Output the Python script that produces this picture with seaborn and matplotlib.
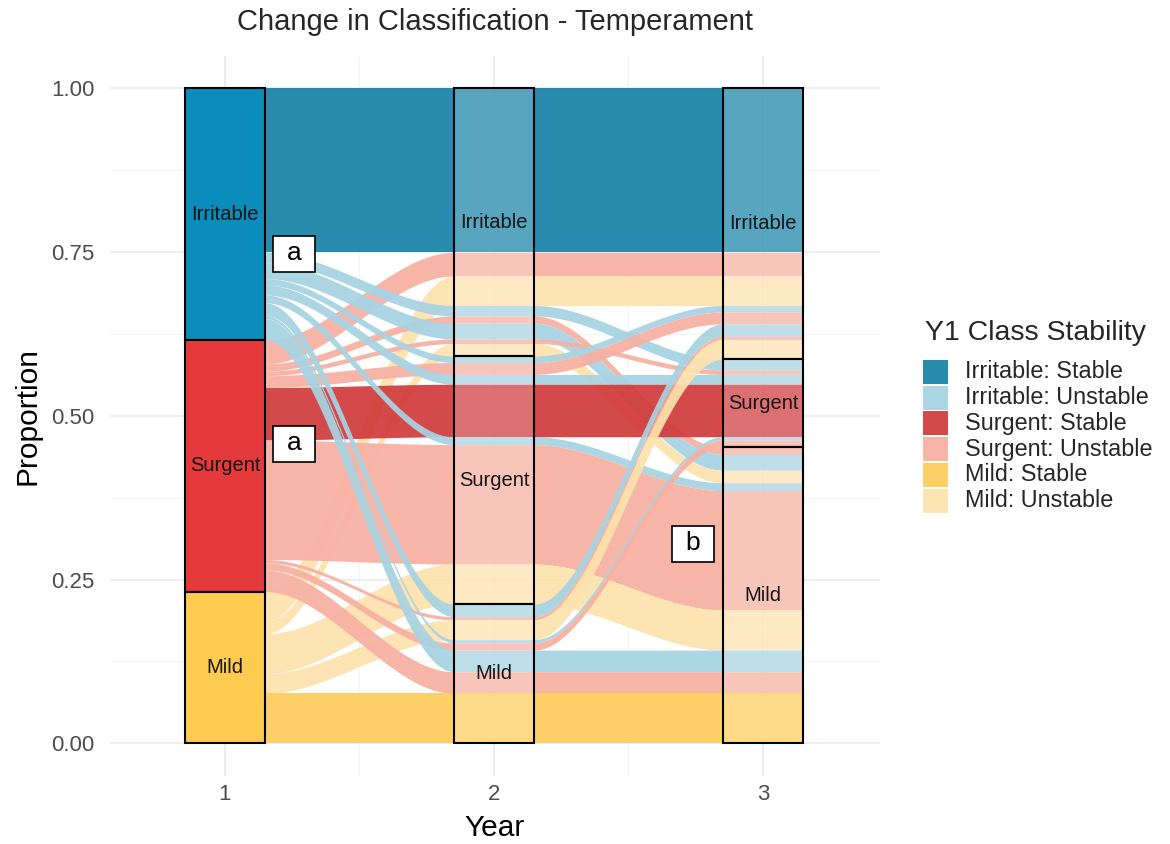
import numpy as np
import matplotlib.pyplot as plt
import seaborn as sns
from matplotlib.patches import Rectangle

sns.set_theme(style="whitegrid")
plt.rcParams['font.family'] = ['Liberation Sans', 'DejaVu Sans']

# ---------------- 数据 ----------------
years = [1, 2, 3]
strata = ['Irritable', 'Surgent', 'Mild']   # 从上到下堆叠
stability_levels = ['Irritable: Stable', 'Irritable: Unstable',
                    'Surgent: Stable', 'Surgent: Unstable',
                    'Mild: Stable', 'Mild: Unstable']
stability_colors = ['#1883a8', '#a7d3e2', '#d13b3b', '#f7b0a2', '#fccd5a', '#fde2ae']
stratum_colors_y1 = ['#0a8dba', '#e6393b', '#fccb4f']

# 每条冲积流: 第1/2/3年类别, Y1 类别稳定性, 比例
class_y1 = ['Irritable', 'Surgent', 'Mild', 'Irritable', 'Surgent', 'Irritable', 'Surgent', 'Mild',
            'Irritable', 'Surgent', 'Irritable', 'Surgent', 'Irritable', 'Surgent', 'Mild',
            'Irritable', 'Surgent', 'Mild', 'Irritable', 'Surgent', 'Irritable', 'Surgent', 'Mild']
class_y2 = ['Irritable'] * 8 + ['Surgent'] * 7 + ['Mild'] * 8
class_y3 = ['Irritable', 'Irritable', 'Irritable', 'Surgent', 'Mild', 'Mild', 'Surgent', 'Mild',
            'Irritable', 'Irritable', 'Surgent', 'Surgent', 'Mild', 'Mild', 'Mild',
            'Irritable', 'Irritable', 'Irritable', 'Surgent', 'Surgent', 'Mild', 'Mild', 'Mild']
stability = ['Irritable: Stable', 'Surgent: Unstable', 'Mild: Unstable', 'Irritable: Unstable',
             'Surgent: Unstable', 'Irritable: Unstable', 'Surgent: Unstable', 'Mild: Unstable',
             'Irritable: Unstable', 'Surgent: Unstable', 'Irritable: Unstable', 'Surgent: Stable',
             'Irritable: Unstable', 'Surgent: Unstable', 'Mild: Unstable',
             'Irritable: Unstable', 'Surgent: Unstable', 'Mild: Unstable', 'Irritable: Unstable',
             'Surgent: Unstable', 'Irritable: Unstable', 'Surgent: Unstable', 'Mild: Stable']
proportion = [0.250, 0.036, 0.045, 0.016, 0.011, 0.024, 0.007, 0.019,
              0.010, 0.018, 0.015, 0.080, 0.012, 0.182, 0.061,
              0.019, 0.005, 0.030, 0.005, 0.011, 0.033, 0.033, 0.076]

# ---------------- 计算每条流在各年份的上下边界 ----------------
paths = list(zip(class_y1, class_y2, class_y3))
w = np.array(proportion) / np.sum(proportion)
n = len(w)
tops = np.zeros((n, 3))
bots = np.zeros((n, 3))
stratum_bounds = {}
for k in range(3):
    y = 1.0
    for s in strata:
        s_top = y
        for i in range(n):
            if paths[i][k] == s:
                tops[i, k] = y
                y -= w[i]
                bots[i, k] = y
        stratum_bounds[(k, s)] = (y, s_top)

hw = 0.15  # 层宽度的一半
color_map = dict(zip(stability_levels, stability_colors))


def alluvium_shape(top, bot):
    xs, hi, lo = [], [], []
    for k in range(3):
        xs += [years[k] - hw, years[k] + hw]
        hi += [top[k]] * 2
        lo += [bot[k]] * 2
        if k < 2:
            t = np.linspace(0, 1, 80)[1:-1]
            s = t * t * (3 - 2 * t)
            x0, x1 = years[k] + hw, years[k + 1] - hw
            xs += list(x0 + (x1 - x0) * t)
            hi += list(top[k] + (top[k + 1] - top[k]) * s)
            lo += list(bot[k] + (bot[k + 1] - bot[k]) * s)
    return np.array(xs), np.array(lo), np.array(hi)


# ---------------- 绘图 ----------------
W, H = 1170, 844
fig = plt.figure(figsize=(W / 100, H / 100), dpi=100)
ax = fig.add_axes([110 / W, 68 / H, 770 / W, 720.5 / H])

for i in range(n):
    xs, lo, hi = alluvium_shape(tops[i], bots[i])
    ax.fill_between(xs, lo, hi, color=color_map[stability[i]], alpha=0.93, lw=0, zorder=2)

for k, yr in enumerate(years):
    for j, s in enumerate(strata):
        b, t = stratum_bounds[(k, s)]
        if k == 0:
            ax.add_patch(Rectangle((yr - hw, b), 2 * hw, t - b, facecolor=stratum_colors_y1[j],
                                   edgecolor='black', lw=1.5, zorder=3))
        else:
            ax.add_patch(Rectangle((yr - hw, b), 2 * hw, t - b, facecolor=(1, 1, 1, 0.22),
                                   edgecolor='black', lw=1.5, zorder=3))
        ax.text(yr, (b + t) / 2, s, ha='center', va='center', fontsize=14.5,
                color='#151515', zorder=4)

# 注释标签 a / a / b
for lab, (cx, cy) in [('a', (1.2565, 0.7466)), ('a', (1.2565, 0.4565)), ('b', (2.740, 0.3038))]:
    bw, bh = 42 / 269, 36 / 655
    ax.add_patch(Rectangle((cx - bw / 2, cy - bh / 2), bw, bh, facecolor='white',
                           edgecolor='black', lw=1.2, zorder=5))
    ax.text(cx, cy + 0.002, lab, ha='center', va='center', fontsize=19, color='black', zorder=6)

ax.set_xlim(0.5725, 3.435)
ax.set_ylim(-0.05, 1.05)
ax.set_xticks(years)
ax.set_xticks([1.5, 2.5], minor=True)
ax.set_yticks([0, 0.25, 0.5, 0.75, 1.0])
ax.set_yticklabels(['0.00', '0.25', '0.50', '0.75', '1.00'])
ax.set_yticks([0.125, 0.375, 0.625, 0.875], minor=True)
ax.grid(which='major', color='#ebebeb', lw=1.2)
ax.grid(which='minor', color='#f4f4f4', lw=0.7)
ax.set_axisbelow(True)
ax.tick_params(axis='both', which='both', length=0, labelsize=16, labelcolor='#4d4d4d')
ax.tick_params(axis='y', pad=11)
ax.tick_params(axis='x', pad=6)
sns.despine(ax=ax, left=True, bottom=True)
ax.set_facecolor('white')

ax.set_xlabel('Year', fontsize=21.5, color='black')
ax.set_ylabel('Proportion', fontsize=21.5, color='black')
ax.xaxis.set_label_coords(0.5, (776 - 828) / 720.5)
ax.xaxis.label.set_va('center')
ax.yaxis.set_label_coords((28 - 110) / 770, 0.5)
ax.yaxis.label.set_va('center')

fig.text(495 / W, 1 - 22 / H, 'Change in Classification - Temperament',
         ha='center', va='center', fontsize=21)

# 图例
fig.text(925 / W, 1 - 333 / H, 'Y1 Class Stability', ha='left', va='center', fontsize=20.5)
for k, (lab, col) in enumerate(zip(stability_levels, stability_colors)):
    top_px = 360 + 25.7 * k
    fig.add_artist(Rectangle((923 / W, 1 - (top_px + 24) / H), 25 / W, 24 / H,
                             facecolor=col, alpha=0.93, edgecolor='none',
                             transform=fig.transFigure))
    fig.text(965 / W, 1 - (top_px + 12) / H, lab, ha='left', va='center', fontsize=16.8)

fig.savefig('out.png', dpi=100, facecolor='white')
